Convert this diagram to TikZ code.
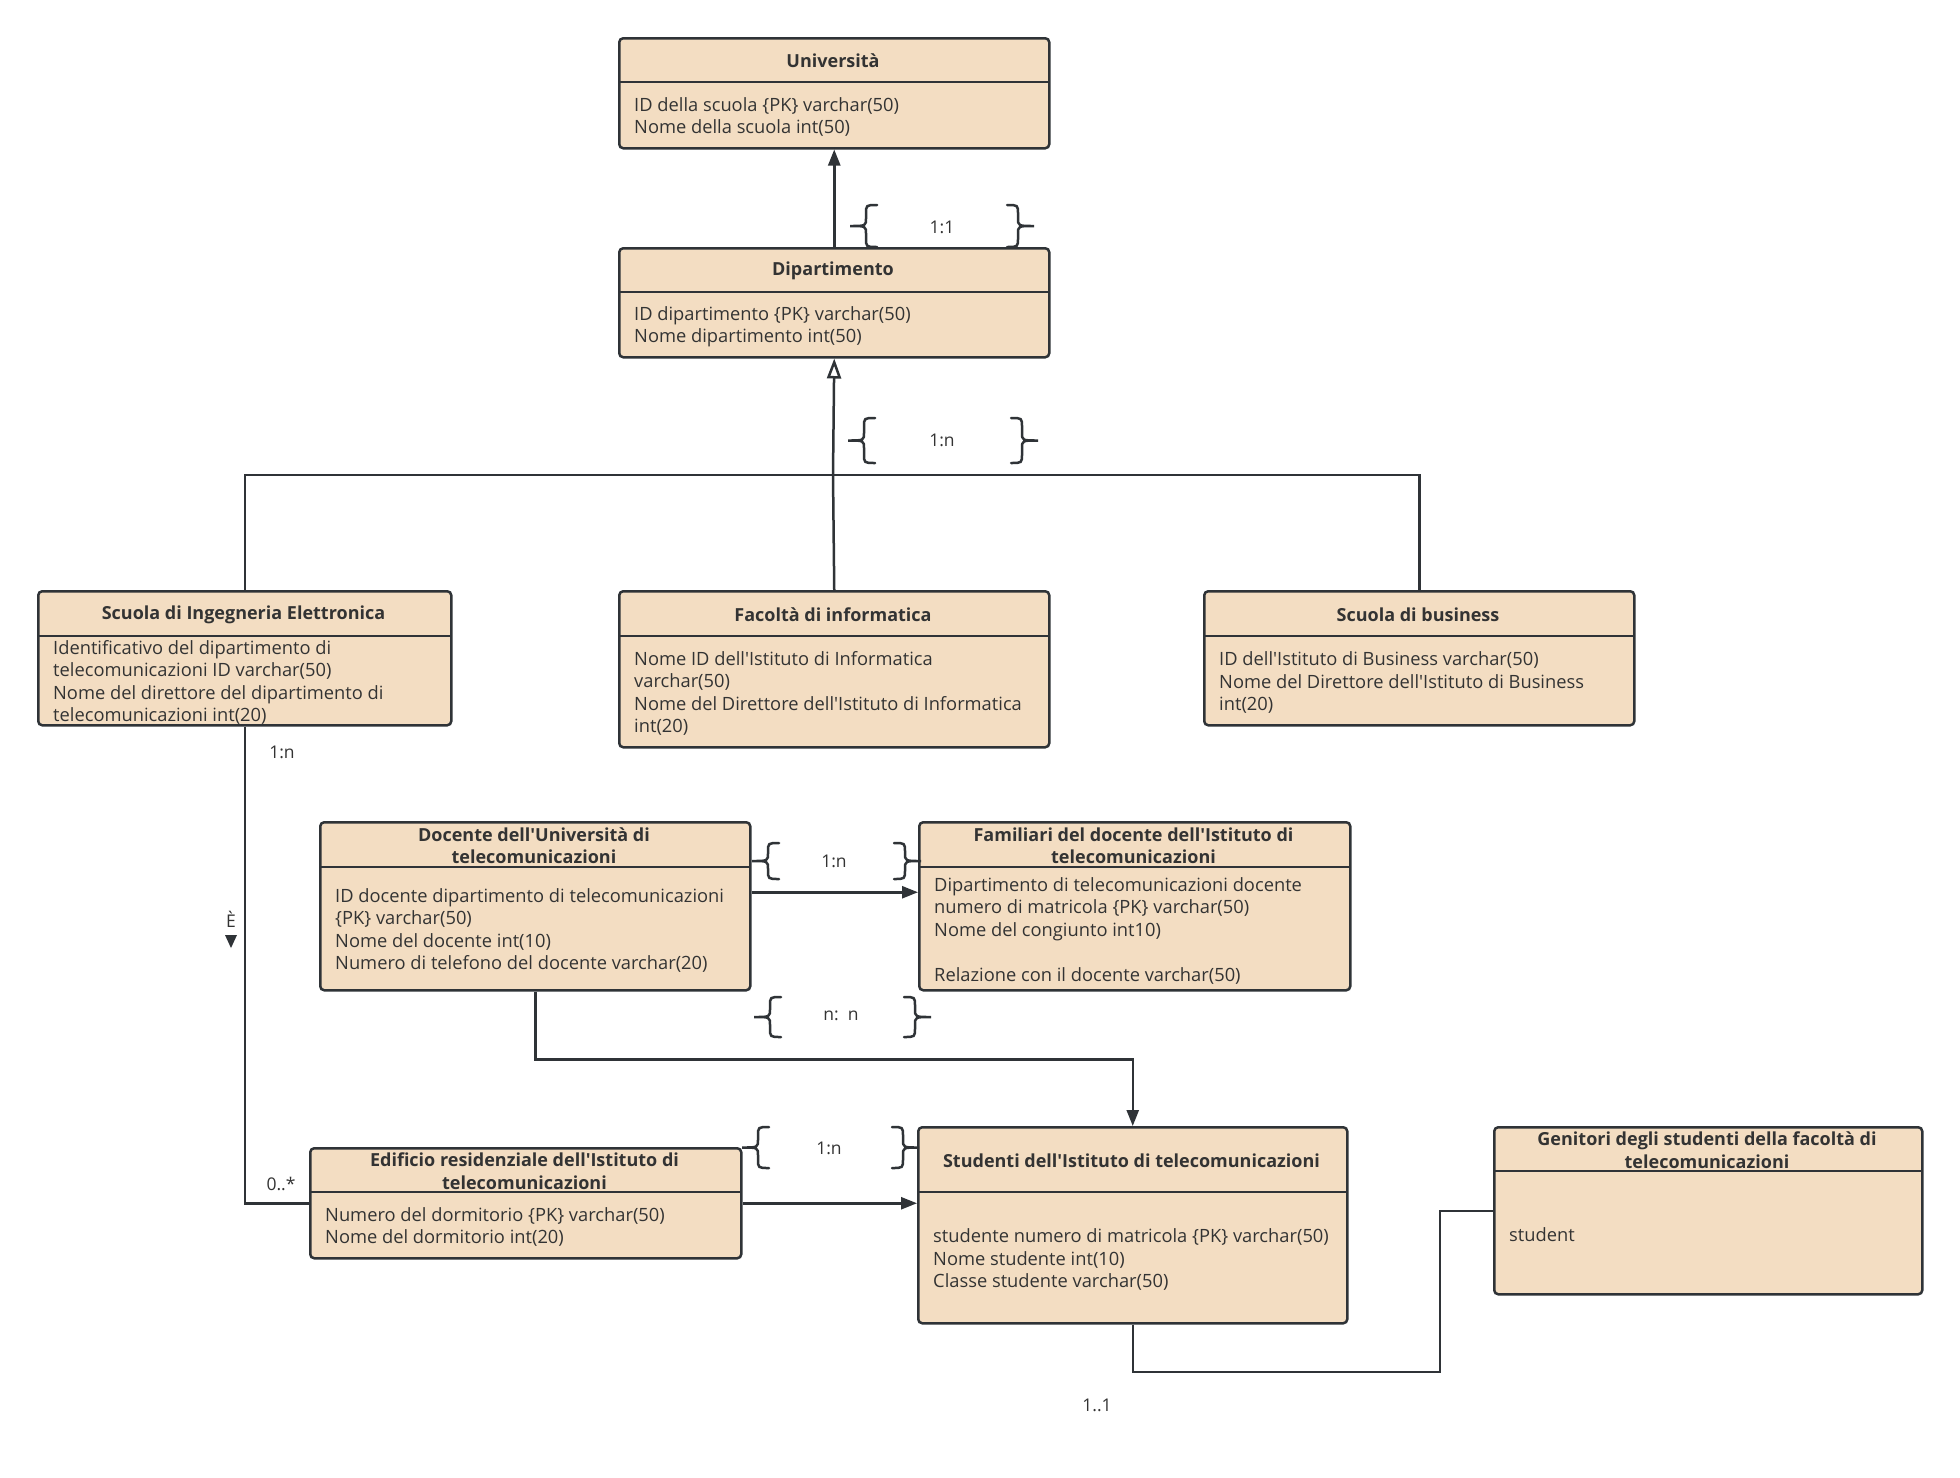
\documentclass[tikz,border=0pt]{standalone}
\usepackage{fontspec}
\newfontfamily\uf{Open Sans}
\usetikzlibrary{arrows.meta,calc}
\definecolor{peach}{HTML}{F3DDC2}
\definecolor{linec}{HTML}{2F3337}
\definecolor{txtc}{HTML}{333333}
\newcommand\entity[8]{%
  \node[ent, minimum width=#4-#2, minimum height=#5-#3] (#1) at (#2,#3) {};
  \draw[divl] (#2,#6) -- (#4,#6);
  \node[hdr] (#1-t) at ({(#2+#4)/2},{(#3+#6)/2}) {#7};
  \node[bdy] (#1-b) at (#2+16,{(#6+#5)/2}) {#8};
}
\newcommand\braceL[3]{%
  \draw[brc] (#1+27,#2) .. controls (#1+16,#2) .. (#1+16,#2+9)
    -- (#1+16,{(#2+#3)/2-8}) .. controls (#1+16,{(#2+#3)/2}) .. (#1,{(#2+#3)/2})
    .. controls (#1+16,{(#2+#3)/2}) .. (#1+16,{(#2+#3)/2+8})
    -- (#1+16,#3-9) .. controls (#1+16,#3) .. (#1+27,#3);
}
\newcommand\braceR[3]{%
  \draw[brc] (#1,#2) .. controls (#1+11,#2) .. (#1+11,#2+9)
    -- (#1+11,{(#2+#3)/2-8}) .. controls (#1+11,{(#2+#3)/2}) .. (#1+27,{(#2+#3)/2})
    .. controls (#1+11,{(#2+#3)/2}) .. (#1+11,{(#2+#3)/2+8})
    -- (#1+11,#3-9) .. controls (#1+11,#3) .. (#1,#3);
}
\begin{document}
\begin{tikzpicture}[x=1pt,y=-1pt,
  ent/.style={draw=linec, fill=peach, line width=2.5pt, rounded corners=4pt, inner sep=0pt, anchor=north west},
  divl/.style={draw=linec, line width=2.5pt},
  hdr/.style={font=\uf\bfseries\fontsize{18}{22.5}\selectfont, text=txtc, align=center, inner sep=0pt, yshift=-1.5pt},
  bdy/.style={font=\uf\fontsize{18.3}{22.5}\selectfont, text=txtc, align=left, anchor=west, inner sep=0pt, yshift=-2.5pt},
  conn/.style={draw=linec, line width=2.5pt},
  lbl/.style={font=\uf\fontsize{17.5}{20}\selectfont, text=txtc, inner sep=0pt},
  brc/.style={draw=linec, line width=2.5pt, line cap=round},
  fa/.style={-{Triangle[length=16pt,width=12pt]}},
  oa/.style={-{Triangle[open,length=20pt,width=14pt,line width=2.5pt]}},
]
\fill[white] (0,0) rectangle (1960,1478);
\useasboundingbox (0,0) rectangle (1960,1478);

\entity{uni}{618}{37}{1048}{147}{82}{Università}{ID della scuola \{PK\} varchar(50)\\Nome della scuola int(50)}
\entity{dip}{618}{247}{1048}{356}{292}{Dipartimento}{ID dipartimento \{PK\} varchar(50)\\Nome dipartimento int(50)}
\entity{sie}{37}{590}{450}{724}{636}{Scuola di Ingegneria Elettronica}{Identificativo del dipartimento di\\telecomunicazioni ID varchar(50)\\Nome del direttore del dipartimento di\\telecomunicazioni int(20)}
\entity{fac}{618}{590}{1048}{746}{636}{Facoltà di informatica}{Nome ID dell'Istituto di Informatica\\varchar(50)\\Nome del Direttore dell'Istituto di Informatica\\int(20)}
\entity{sbu}{1203}{590}{1633}{724}{636}{Scuola di business}{ID dell'Istituto di Business varchar(50)\\Nome del Direttore dell'Istituto di Business\\int(20)}
\entity{doc}{319}{821}{749}{989}{867}{Docente dell'Università di\\telecomunicazioni}{ID docente dipartimento di telecomunicazioni\\\{PK\} varchar(50)\\Nome del docente int(10)\\Numero di telefono del docente varchar(20)}
\entity{fam}{918}{821}{1349}{989}{867}{Familiari del docente dell'Istituto di\\telecomunicazioni}{Dipartimento di telecomunicazioni docente\\numero di matricola \{PK\} varchar(50)\\Nome del congiunto int10)\\\mbox{}\\Relazione con il docente varchar(50)}
\entity{edi}{309}{1147}{740}{1257}{1192}{Edificio residenziale dell'Istituto di\\telecomunicazioni}{Numero del dormitorio \{PK\} varchar(50)\\Nome del dormitorio int(20)}
\entity{stu}{917}{1126}{1346}{1322}{1192}{Studenti dell'Istituto di telecomunicazioni}{studente numero di matricola \{PK\} varchar(50)\\Nome studente int(10)\\Classe studente varchar(50)}
\entity{gen}{1493}{1126}{1921}{1293}{1171}{Genitori degli studenti della facoltà di\\telecomunicazioni}{student}

% connectors
\coordinate (hub) at (833,475);
\coordinate (k) at (1440,1372);
\draw[conn,fa] (dip.north) -- (uni.south);
\draw[conn] (sie.north) |- (hub) -| (sbu.north);
\draw[conn] (fac.north) -- (hub);
\draw[conn,oa] (hub) -- (dip.south);
\draw[conn] (sie.south) |- (edi.west);
\draw[conn,fa] ([yshift=14pt]doc.east) -- ([yshift=14pt]fam.west);
\draw[conn,fa] (doc.south) -- ++(0,68) -| (stu.north);
\draw[conn,fa] (edi.east) -- (stu.west |- edi.east);
\draw[conn] (stu.south) |- (k) |- (gen.west);

% braces and labels
\braceL{850}{205}{247}\braceR{1007}{205}{247}
\node[lbl] (l1) at (942,227) {1:1};
\braceL{848}{418}{463}\braceR{1011}{418}{463}
\node[lbl] (l2) at (942,440) {1:n};
\braceL{752}{843}{879}\braceR{894}{843}{879}
\node[lbl] (l3) at (834,861) {1:n};
\braceL{754}{997}{1037}\braceR{904}{997}{1037}
\node[lbl] (l4) at (841,1016) {n:\ \ n};
\braceL{742}{1127}{1168}\braceR{892}{1127}{1168}
\node[lbl] (l5) at (829,1148) {1:n};

\node[lbl] (m1) at (282,752) {1:n};
\node[lbl] (m2) at (231,919) {È};
\fill[linec] (225,935) -- (237,935) -- (231,948) -- cycle;
\node[lbl] (m3) at (281,1184) {0..*};
\node[lbl] (m4) at (1097,1405) {1..1};
\end{tikzpicture}
\end{document}
